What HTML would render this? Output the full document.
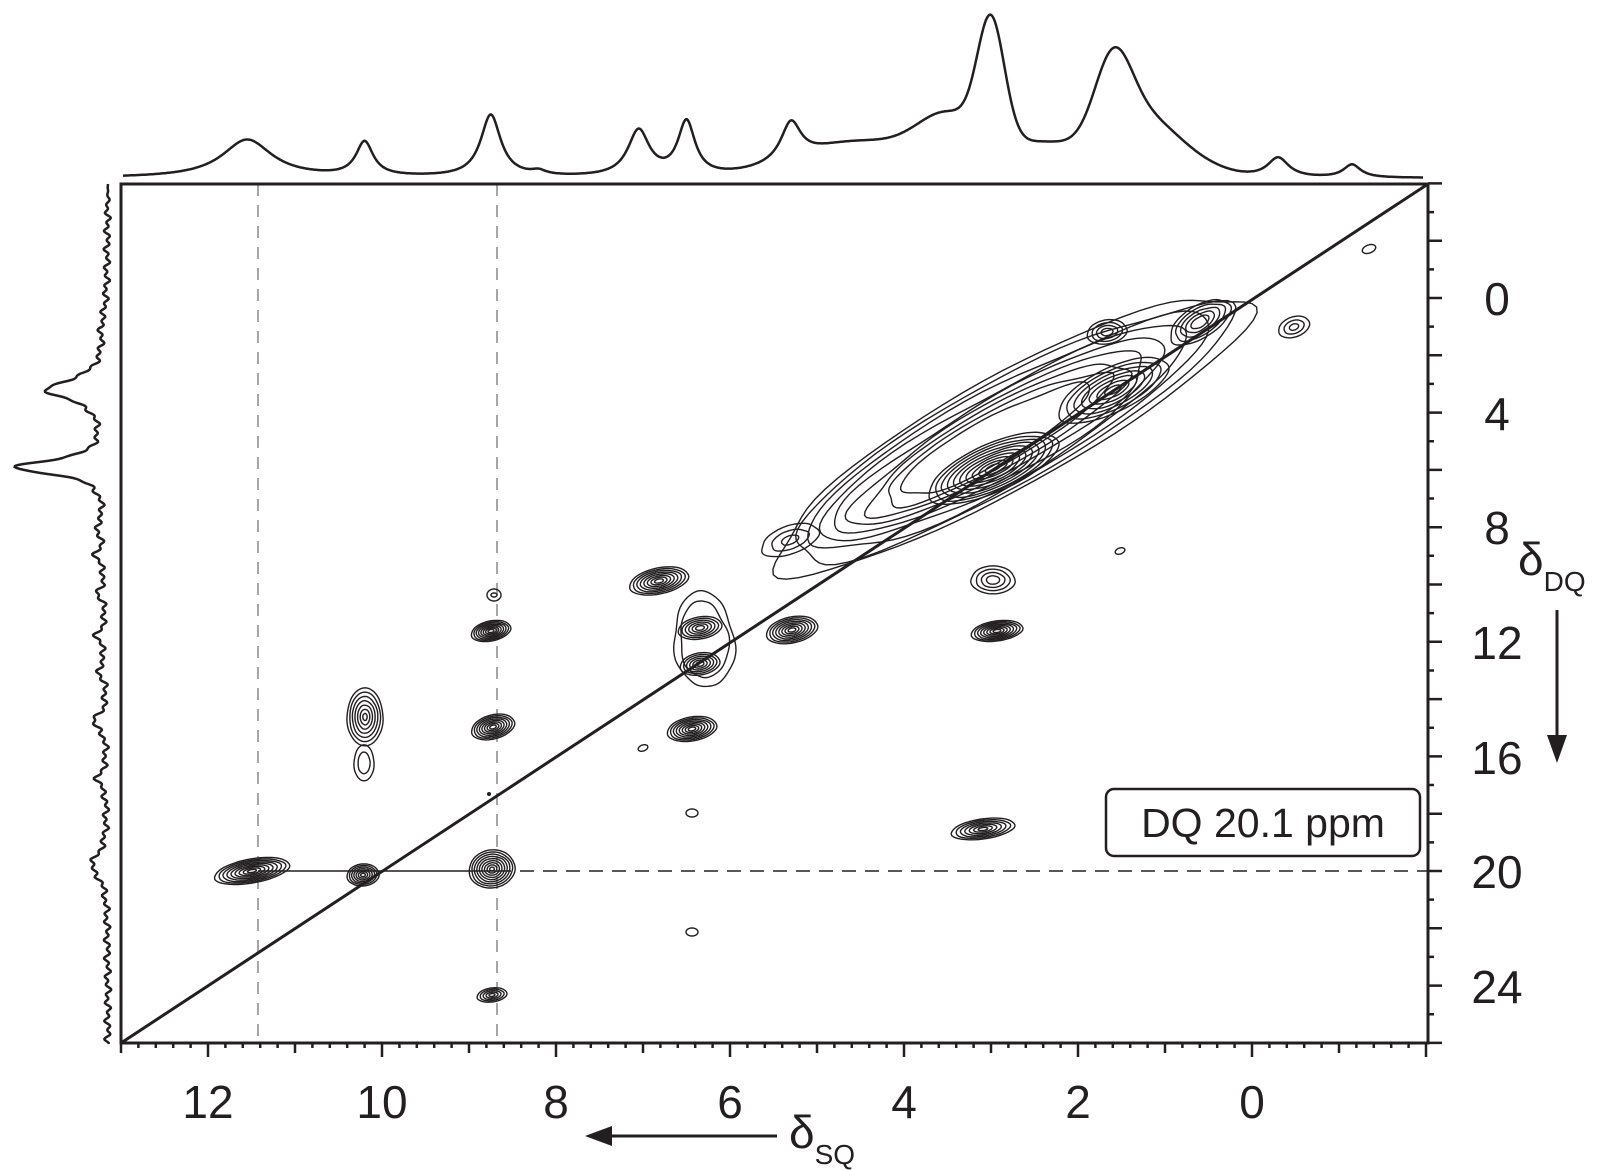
<!DOCTYPE html>
<html><head><meta charset="utf-8"><style>
html,body{margin:0;padding:0;background:#fff;}
svg{display:block;}
text{font-family:"Liberation Sans",Arial,sans-serif;fill:#231f20;}
</style></head><body>
<svg id="s" width="1605" height="1170" viewBox="0 0 1605 1170" xmlns="http://www.w3.org/2000/svg">
<g id="g" fill="none" stroke="#231f20"></g>
<rect x="1106" y="789" width="314" height="67" rx="8" fill="#fff" stroke="#231f20" stroke-width="2.5"/>
<text x="1263" y="837" font-size="41" text-anchor="middle">DQ 20.1 ppm</text>
<g font-size="46" text-anchor="middle">
<text x="208" y="1118">12</text><text x="382" y="1118">10</text><text x="556" y="1118">8</text>
<text x="730" y="1118">6</text><text x="904" y="1118">4</text><text x="1078" y="1118">2</text><text x="1252" y="1118">0</text>
<text x="1497" y="315">0</text><text x="1497" y="430">4</text><text x="1497" y="544">8</text><text x="1497" y="659">12</text>
<text x="1497" y="774">16</text><text x="1497" y="888">20</text><text x="1497" y="1003">24</text>
</g>
<text x="789" y="1148" font-size="46">δ<tspan font-size="28" dy="16">SQ</tspan></text>
<text x="1518" y="575" font-size="46">δ<tspan font-size="28" dy="16">DQ</tspan></text>
<line x1="777" y1="1136" x2="605" y2="1136" stroke="#231f20" stroke-width="3"/>
<polygon points="585,1136 612,1126 612,1146" fill="#231f20"/>
<line x1="1557" y1="610" x2="1557" y2="745" stroke="#231f20" stroke-width="3"/>
<polygon points="1557,763 1547,735 1567,735" fill="#231f20"/>
</svg>
<script>
var g=document.getElementById('g'),NS='http://www.w3.org/2000/svg';
function X(s){return 1252-87*s;} function Y(d){return 298+28.65*d;}
function el(t,a){var e=document.createElementNS(NS,t);for(var k in a)e.setAttribute(k,a[k]);g.appendChild(e);return e;}
el('line',{x1:258,y1:184,x2:258,y2:1043,stroke:'#888','stroke-width':1.5,'stroke-dasharray':'12,9'});
el('line',{x1:497,y1:184,x2:497,y2:1043,stroke:'#888','stroke-width':1.5,'stroke-dasharray':'12,9'});
el('line',{x1:497,y1:871,x2:1428,y2:871,stroke:'#231f20','stroke-width':1.5,'stroke-dasharray':'14,9'});
el('line',{x1:258,y1:871,x2:497,y2:871,stroke:'#231f20','stroke-width':1.5});
el('rect',{x:121,y:184,width:1307,height:859,'stroke-width':3});
el('line',{x1:121,y1:1043,x2:1428,y2:184,'stroke-width':3});
var d='';
for(var i=0;i<=75;i++){var s=13-i*0.2,x=X(s);var r=Math.round(s*10)/10;var L=(Math.abs(r%2)<0.01)?14:(Math.abs(r%1)<0.01?10:5);d+='M'+x.toFixed(1)+' 1043v'+L;}
el('path',{d:d,'stroke-width':2.5});
d='';
for(var v=-4;v<=26;v++){var L=(v%2===0)?14:6;d+='M1428 '+Y(v).toFixed(1)+'h'+L;}
el('path',{d:d,'stroke-width':2.5});
function lor(x,c,w){return 1/(1+Math.pow((x-c)/w,2));}
function gau(x,c,w){return Math.exp(-Math.pow((x-c)/w,2));}
var pk=[[11.55,38,0.35],[10.2,34,0.12],[8.75,62,0.14],[8.2,4,0.1],[7.05,46,0.15],[6.5,54,0.12],[5.3,38,0.14],[-0.3,20,0.15],[-1.15,13,0.12]];
var gk=[[3.0,120,0.22],[3.5,45,0.5],[4.5,35,1.0],[1.6,80,0.3],[1.3,40,0.5],[2.4,35,0.9],[0.9,22,0.6]];
d='';
for(var i=0;i<=1300;i++){var x=123+i;var s=(1252-x)/87;var h=0;pk.forEach(function(p){h+=p[1]*lor(s,p[0],p[2]);});gk.forEach(function(p){h+=p[1]*gau(s,p[0],p[2]);});
d+=(i?'L':'M')+x+' '+(178-h).toFixed(1);}
el('path',{d:d,'stroke-width':2.5});
var lp=[[3.2,60,0.45],[5.9,92,0.3],[8,8,0.3],[9,10,0.3],[10.3,8,0.3],[11.8,10,0.3],[13,8,0.3],[14.8,14,0.3],[16.8,10,0.3],[19.8,16,0.5],[1,4,0.6]];
d='';
for(var i=0;i<=860;i++){var y=184+i;var dq=(y-298)/28.65;var h=0;lp.forEach(function(p){h+=p[1]*lor(dq,p[0],p[2]);});
h+=2*Math.sin(i*0.7)+1.5*Math.sin(i*0.31);
if(i<30)h=h*(i/30);
d+=(i?'L':'M')+(108-h).toFixed(1)+' '+y;}
el('path',{d:d,'stroke-width':2.5});
function ell(cx,cy,rx,ry,ang,wob,seed){var a=ang*Math.PI/180,p='';for(var k=0;k<=72;k++){var t=k/72*2*Math.PI;var f=1+wob*(Math.sin(3*t+seed)*0.5+Math.sin(5*t+seed*2)*0.3+Math.sin(7*t+seed*3)*0.2);
var ex=rx*f*Math.cos(t),ey=ry*f*Math.sin(t);var px=cx+ex*Math.cos(a)-ey*Math.sin(a),py=cy+ex*Math.sin(a)+ey*Math.cos(a);p+=(k?'L':'M')+px.toFixed(1)+' '+py.toFixed(1);}
el('path',{d:p+'Z','stroke-width':1.4});}
function nest(cx,cy,rx,ry,ang,n,wob,minf){minf=minf||0.15;for(var i=0;i<n;i++){var f=1-(1-minf)*i/(n-1||1);ell(cx,cy,rx*f,ry*f,ang,wob,i*0.7);}}
for(var i=0;i<9;i++){var f=1-i*0.075;ell(1010-i*2,432+i*1,268*f,56*f,-29,0.07,i);}
nest(993,468,70,24,-24,10,0.03,0.12);
nest(1113,390,60,22,-26,7,0.03,0.15);
nest(1200,322,34,16,-32,5,0.05,0.3);
nest(993,580,22,14,0,4,0.03,0.3);
nest(1107,332,20,12,-10,4,0.03,0.3);
nest(790,540,30,14,-20,3,0.05,0.3);
nest(659,581,30,13,-12,8,0.02,0.15);
nest(1294,327,16,10,-20,3,0.02,0.3);
ell(1369,249,7,4,-20,0,0);
ell(1120,551,5,3,-20,0,0);
ell(494,595,7,6,0,0,0);ell(494,595,3,2,0,0,0);
nest(491,631,20,10,-12,8,0.02,0.15);
nest(704,640,30,48,-5,2,0.08,0.8);
nest(700,628,22,11,-10,6,0.02,0.2);
nest(700,664,20,11,-10,6,0.02,0.2);
nest(792,630,26,13,-12,8,0.02,0.15);
nest(997,631,26,10,-8,8,0.02,0.15);
nest(365,717,18,29,0,7,0.02,0.12);
nest(364,763,10,18,0,2,0.03,0.6);
nest(493,727,22,12,-15,8,0.02,0.15);
nest(692,729,25,12,-10,8,0.02,0.15);
ell(643,748,5,3,-20,0,0);
ell(692,813,6,4,0,0,0);
nest(983,829,32,10,-8,7,0.02,0.15);
nest(252,871,38,12,-10,9,0.02,0.12);
nest(363,875,16,11,-5,7,0.02,0.15);
nest(492,869,23,19,-10,9,0.02,0.1);
ell(692,932,6,4,0,0,0);
nest(492,995,15,7,-8,5,0.02,0.2);
el('circle',{cx:489,cy:794,r:1.5,fill:'#231f20'});
</script>
</body></html>
